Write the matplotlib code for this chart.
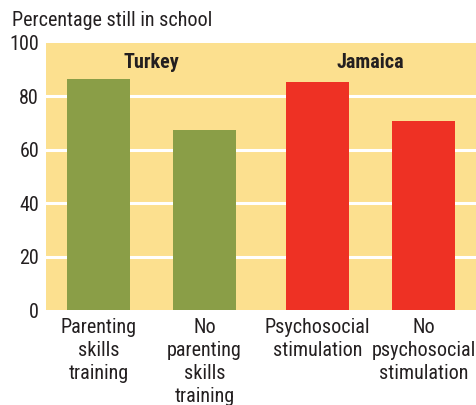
import matplotlib
matplotlib.use("Agg")
import matplotlib.pyplot as plt

plt.rcParams['font.family'] = ['Roboto Condensed', 'DejaVu Sans']

categories = ["Parenting\nskills\ntraining", "No\nparenting\nskills\ntraining",
              "Psychosocial\nstimulation", "No\npsychosocial\nstimulation"]
values = [86.5, 67.4, 85.4, 70.8]
groups = ["Turkey", "Jamaica"]
yticks = [0, 20, 40, 60, 80, 100]

green = "#8A9E47"
red = "#EE3124"
bg = "#FCE08F"
text_color = "#231f20"
colors = [green, green, red, red]

fig = plt.figure(figsize=(4.76, 4.05), dpi=100)
ax = fig.add_axes([46/476, 1-310/405, 430/476, 267/405])
ax.set_facecolor(bg)

pos = [0, 1, 2.066, 3.066]
ax.bar(pos, values, width=0.594, color=colors, zorder=3)
ax.set_xlim(-0.495, 3.561)
ax.set_ylim(0, 100)
ax.set_yticks(yticks)
for y in yticks[1:-1]:
    ax.axhline(y, color="white", lw=2.2, zorder=2)
for s in ax.spines.values():
    s.set_visible(False)
ax.tick_params(axis='both', length=0, labelsize=14.5, colors=text_color)
ax.tick_params(axis='y', pad=5)
ax.set_xticks(pos)
ax.set_xticklabels(categories, linespacing=1.26, va='top')
ax.tick_params(axis='x', pad=6)

ax.text((pos[0]+pos[1])/2, 92.8, groups[0], ha='center', va='center', fontsize=14.5,
        fontweight='bold', color=text_color, zorder=4)
ax.text((pos[2]+pos[3])/2, 92.8, groups[1], ha='center', va='center', fontsize=14.5,
        fontweight='bold', color=text_color, zorder=4)

fig.text(12/476, 1-20/405, "Percentage still in school", ha='left', va='center',
         fontsize=14.5, color=text_color)

fig.savefig("out.png", dpi=100)
